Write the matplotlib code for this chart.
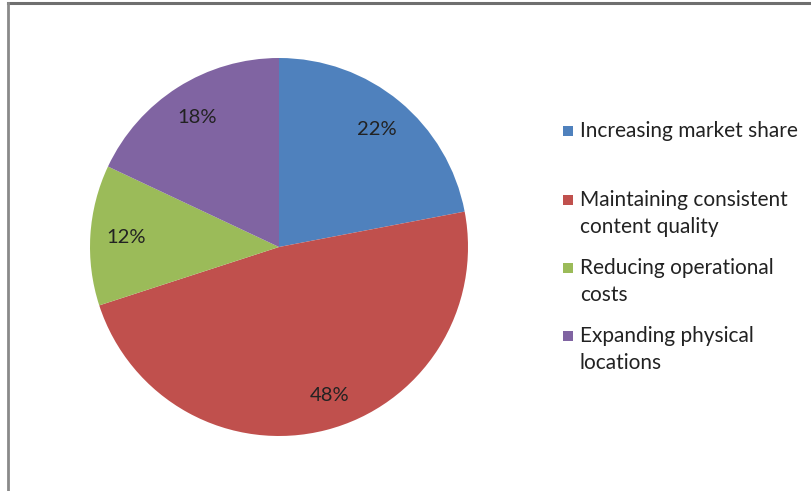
import matplotlib
matplotlib.use("Agg")
import matplotlib.pyplot as plt
from matplotlib.patches import Rectangle
from matplotlib.lines import Line2D

categories = ["Increasing market share",
              "Maintaining consistent\ncontent quality",
              "Reducing operational\ncosts",
              "Expanding physical\nlocations"]
shares = [22, 48, 12, 18]
colors = ["#4F81BD", "#C0504D", "#9BBB59", "#8064A2"]

W, H = 812, 491
fig = plt.figure(figsize=(W / 100, H / 100), dpi=100)
fig.patch.set_facecolor("white")
font = ["Lato", "DejaVu Sans"]

# pie centred at (279, 247) px with radius 189 px
cx, cy, r = 279, 247, 189
ax = fig.add_axes([(cx - r) / W, 1 - (cy + r) / H, 2 * r / W, 2 * r / H])
wedges, texts, autotexts = ax.pie(
    shares, colors=colors, startangle=90, counterclock=False,
    autopct=lambda p: f"{p:.0f}%", pctdistance=0.81,
    wedgeprops=dict(edgecolor="none", linewidth=0),
    textprops=dict(fontsize=14.5, color="#222222", family=font))
# the large slice's label sits a little right of its bisector
x, y = autotexts[1].get_position()
autotexts[1].set_position((x + 0.065, y))
ax.set_aspect("equal")
ax.set_xlim(-1, 1)
ax.set_ylim(-1, 1)
ax.axis("off")

# legend on the right
leg_y = [131, 200, 268, 336]
line_h = 27
for yc, lab, col in zip(leg_y, categories, colors):
    fig.add_artist(Rectangle((563 / W, 1 - (yc + 5) / H), 10 / W, 10 / H,
                             transform=fig.transFigure, facecolor=col,
                             edgecolor="none"))
    n = lab.count("\n")
    fig.text(580 / W, 1 - (yc + n * line_h / 2) / H, lab, ha="left", va="center",
             fontsize=15, family=font, color="#222222", linespacing=1.4)

# frame lines
fig.add_artist(Line2D([8 / W, 1], [1 - 3 / H, 1 - 3 / H], transform=fig.transFigure,
                      color="#6f6f6f", linewidth=2.2))
fig.add_artist(Line2D([8 / W, 8 / W], [0, 1 - 3 / H], transform=fig.transFigure,
                      color="#8a8a8a", linewidth=2.0))

fig.savefig("out.png", dpi=100)
